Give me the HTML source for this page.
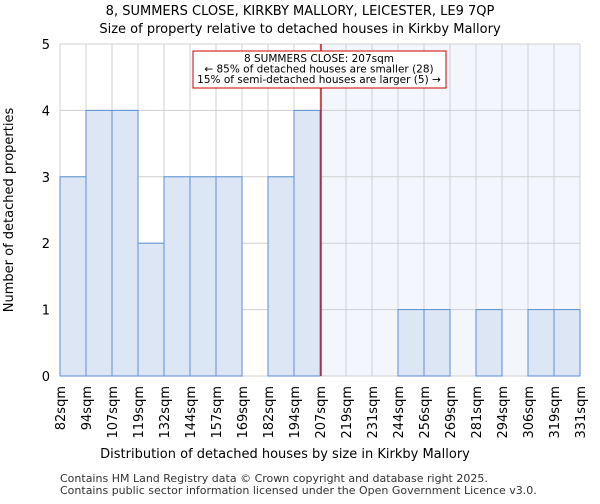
<!DOCTYPE html>
<html><head><meta charset="utf-8"><style>
body{margin:0;background:#fff;font-family:"DejaVu Sans","Liberation Sans",sans-serif;}
</style></head><body>
<svg id="chart" width="600" height="500" xmlns="http://www.w3.org/2000/svg">
<text x="300" y="15" text-anchor="middle" font-size="13">8, SUMMERS CLOSE, KIRKBY MALLORY, LEICESTER, LE9 7QP</text>
<text x="300" y="33" text-anchor="middle" font-size="13">Size of property relative to detached houses in Kirkby Mallory</text>
<g id="plot"></g>
<text x="285" y="458" text-anchor="middle" font-size="13">Distribution of detached houses by size in Kirkby Mallory</text>
<text transform="translate(13,210) rotate(-90)" text-anchor="middle" font-size="13">Number of detached properties</text>
<text x="60" y="482" font-size="11" fill="#333">Contains HM Land Registry data © Crown copyright and database right 2025.</text>
<text x="60" y="494" font-size="11" fill="#333">Contains public sector information licensed under the Open Government Licence v3.0.</text>
</svg>
<script>
const edgeLabels=["82sqm","94sqm","107sqm","119sqm","132sqm","144sqm","157sqm","169sqm","182sqm","194sqm","207sqm","219sqm","231sqm","244sqm","256sqm","269sqm","281sqm","294sqm","306sqm","319sqm","331sqm"];
const counts=[3,4,4,2,3,3,3,0,3,4,0,0,0,1,1,0,1,0,1,1];
const yTicks=[0,1,2,3,4,5];
const markerIndex=10;
const annotationLines=["8 SUMMERS CLOSE: 207sqm","← 85% of detached houses are smaller (28)","15% of semi-detached houses are larger (5) →"];
const NS="http://www.w3.org/2000/svg";
const X0=60,X1=580,Y0=376,Y1=44,nb=edgeLabels.length-1;
const xs=i=>X0+(X1-X0)*i/nb;
const ys=v=>Y0-(Y0-Y1)*v/5;
const g=document.getElementById('plot');
function mk(t,a){const e=document.createElementNS(NS,t);for(const k in a)e.setAttribute(k,a[k]);g.appendChild(e);return e;}
let e=mk('rect',{x:xs(markerIndex),y:Y1,width:X1-xs(markerIndex),height:Y0-Y1,fill:'#f3f6fd'});


for(let i=0;i<=nb;i++){e=mk('line',{x1:xs(i),x2:xs(i),y1:Y1,y2:Y0,stroke:'#d0d0d0'});

}
yTicks.forEach(t=>{e=mk('line',{x1:X0,x2:X1,y1:ys(t),y2:ys(t),stroke:'#d0d0d0'});


const tx=mk('text',{x:X0-10,y:ys(t)+5,'text-anchor':'end','font-size':13});tx.textContent=t;

});
for(let i=0;i<nb;i++){if(!counts[i])continue;
e=mk('rect',{x:xs(i),y:ys(counts[i]),width:xs(i+1)-xs(i),height:Y0-ys(counts[i]),fill:'#dce6f4',stroke:'#5b8fd3','stroke-width':1});

}
edgeLabels.forEach((l,i)=>{const tx=mk('text',{transform:`translate(${xs(i)+5},386) rotate(-90)`,'text-anchor':'end','font-size':13});tx.textContent=l;

});
e=mk('line',{x1:xs(markerIndex)+1,x2:xs(markerIndex)+1,y1:Y1,y2:Y0,stroke:'#c00','stroke-width':1.3});


e=mk('rect',{x:193,y:51,width:253,height:37,fill:'#fff',stroke:'#c00','stroke-width':1});


annotationLines.forEach((l,i)=>{const tx=mk('text',{x:319,y:62+i*10.5,'text-anchor':'middle','font-size':10.5});tx.textContent=l;

});
</script>
</body></html>
